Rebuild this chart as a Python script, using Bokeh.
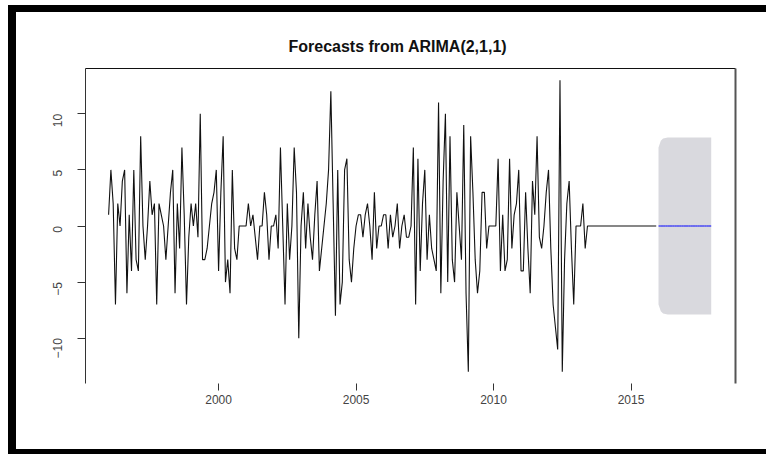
import math
from bokeh.plotting import figure
from bokeh.models import LinearAxis, FixedTicker, Range1d, InlineStyleSheet
from bokeh.embed import file_html
from bokeh.resources import INLINE

title_text = "Forecasts from ARIMA(2,1,1)"
start_year = 1996.0
frequency = 12

obs_1996_1999 = [1, 5, 2, -7, 2, 0, 4, 5, -6, 1, -4, 5, -3, -4, 8, 0, -3, 0, 4, 1,
                 2, -7, 2, 1, 0, -3, 0, 3, 5, -6, 2, -2, 7, 1, -7, -1, 2, 0, 2, -1, 10]
obs_1999_2002 = [-3, -3, -2, 0, 2, 3, 5, -4, 3, 8, -5, -3, -6, 5, -2, -3, 0, 0, 0, 0,
                 2, 0, 1, -1, -3, 0, 0, 3, 1, -3, 0, 0, 1, -2, 7, 0, -7, 2, -3, 0,
                 7, 3, -10]
obs_2003_2006 = [0, 3, -2, 2, -1, -3, 1, 4, -4, -2, 0, 2, 5, 12, 2, -8, 5, -7, -5, 5,
                 6, -3, -5, -2, 0, 1, 1, -1, 1, 2, 0, -3, 3, -2, 0, 0, 1]
obs_2006_2009 = [1, -2, 1, -1, 0, 2, -2, 0, 1, -1, -1, 0, 7, -7, 6, -4, 2, 5, -3, 1,
                 -2, -3, -4, 11, -6, 4, 10, -5, 8, -3, -5, 3, 0, -3, 9, -6, -13, 8, 3, -3,
                 -6, -4, 3, 3]
obs_2009_2013 = [-2, 0, 0, 0, 0, 6, -4, 1, -4, -3, 6, -2, 1, 2, 5, -4, -4, 3, -2, -6,
                 4, 1, 8, -1, -2, 0, 3, 5, -2, -7, -9, -11, 13, -13, -3, 2, 4, -2, -7, 0,
                 0, 0, 2, -2]
obs_2013_2015 = [0, 0, 0, 0, 0, 0, 0, 0, 0, 0, 0, 0, 0, 0, 0, 0, 0, 0, 0, 0,
                 0, 0, 0, 0, 0, 0, 0, 0, 0, 0, 0]

# forecast (24 months) with prediction interval
forecast_mean = [0, 0, 0, 0, 0, 0, 0, 0, 0, 0, 0, 0, 0, 0, 0, 0, 0, 0, 0, 0, 0, 0, 0, 0]
upper_95 = [7.0, 7.6, 7.8, 7.85, 7.9, 7.9, 7.9, 7.9, 7.9, 7.9, 7.9, 7.9,
            7.9, 7.9, 7.9, 7.9, 7.9, 7.9, 7.9, 7.9, 7.9, 7.9, 7.9, 7.9]
lower_95 = [-7.0, -7.6, -7.8, -7.85, -7.9, -7.9, -7.9, -7.9, -7.9, -7.9, -7.9, -7.9,
            -7.9, -7.9, -7.9, -7.9, -7.9, -7.9, -7.9, -7.9, -7.9, -7.9, -7.9, -7.9]

x_ticks = [2000, 2005, 2010, 2015]
y_ticks = [-10, -5, 0, 5, 10]

observed = (obs_1996_1999 + obs_1999_2002 + obs_2003_2006 +
            obs_2006_2009 + obs_2009_2013 + obs_2013_2015)
obs_x = [start_year + i / frequency for i in range(len(observed))]
fc_start = start_year + len(observed) / frequency
fc_x = [fc_start + i / frequency for i in range(len(forecast_mean))]

p = figure(width=766, height=454, output_backend="svg", toolbar_location=None,
           x_range=Range1d(1995.16, 2018.80), y_range=Range1d(-14.04, 14.04),
           x_axis_type=None, y_axis_type=None,
           min_border_left=85, min_border_right=31, min_border_top=68, min_border_bottom=71,
           outline_line_color=None, background_fill_color="white", border_fill_color="white")

p.title.text = title_text
p.title.align = "left"
p.title.offset = 203
p.title.text_font = "Liberation Sans"
p.title.text_font_size = "16px"
p.title.text_font_style = "bold"
p.title.text_color = "#111111"
p.title.standoff = 27

font = "Liberation Sans"
xaxis = LinearAxis(ticker=FixedTicker(ticks=x_ticks), axis_line_color=None,
                   major_tick_out=7, major_tick_in=0, major_tick_line_color="#333333",
                   minor_tick_line_color=None, major_label_text_font=font,
                   major_label_text_font_size="12px", major_label_text_color="#444444",
                   major_label_standoff=4)
p.add_layout(xaxis, "below")

yaxis = LinearAxis(ticker=FixedTicker(ticks=y_ticks), axis_line_color="#333333",
                   major_tick_out=8, major_tick_in=0, major_tick_line_color="#333333",
                   minor_tick_line_color=None, major_label_text_font=font,
                   major_label_text_font_size="12px", major_label_text_color="#444444",
                   major_label_orientation=math.pi / 2, major_label_standoff=20)
p.add_layout(yaxis, "left")

top_axis = LinearAxis(ticker=FixedTicker(ticks=[]), axis_line_color="#111111",
                      major_tick_line_color=None, minor_tick_line_color=None,
                      major_label_text_font_size="0px")
p.add_layout(top_axis, "above")

right_axis = LinearAxis(ticker=FixedTicker(ticks=[]), axis_line_color="#555555",
                        axis_line_width=2, major_tick_line_color=None,
                        minor_tick_line_color=None, major_label_text_font_size="0px")
p.add_layout(right_axis, "right")

p.varea(x=fc_x, y1=lower_95, y2=upper_95, fill_color="#D9D9DE")
p.line(obs_x, observed, line_color="#111111", line_width=1.1)
p.line(fc_x, forecast_mean, line_color="#0000FF", line_width=1)

# outer black frame of the picture, drawn as a CSS overlay on the plot element
frame_css = InlineStyleSheet(css="""
:host::after {
  content: "";
  position: absolute;
  left: 8px;
  top: 5px;
  width: 758px;
  height: 449px;
  box-sizing: border-box;
  border-left: 8px solid #000;
  border-top: 7px solid #000;
  border-bottom: 5px solid #000;
  pointer-events: none;
  z-index: 10;
}
""")
p.stylesheets = [frame_css]

open("out.html", "w").write(file_html(p, INLINE))
